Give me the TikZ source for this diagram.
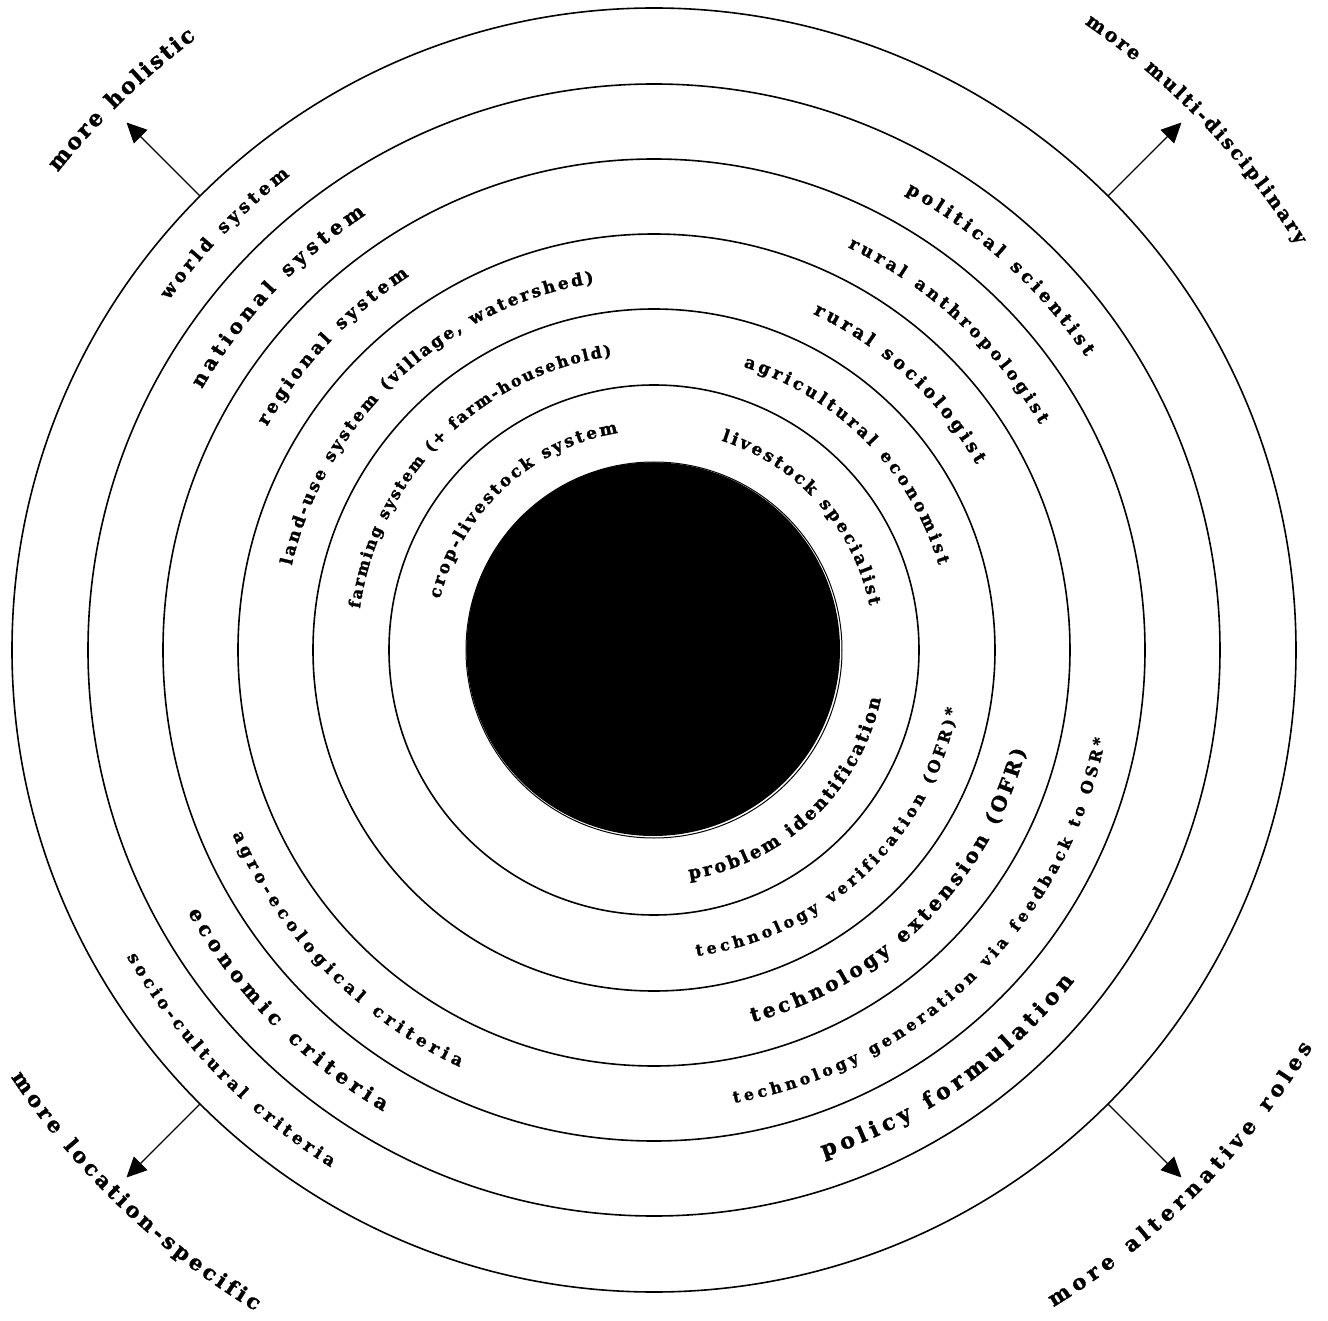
\documentclass[tikz,border=0pt]{standalone}
\usepackage{fontspec}
\setmainfont{DejaVu Serif}[BoldFeatures={FakeBold=1.5}]
\usepackage{tikz}
\usetikzlibrary{arrows.meta,decorations.text}
\newcommand{\ringlabel}[5]{%
  \path[decorate,decoration={text along path,text align=fit to path,
    text={|\fontsize{#4}{#4}\selectfont\bfseries|#5}}]
    (#2:#1) arc[start angle=#2,end angle=#3,radius=#1];}

\begin{document}
\begin{tikzpicture}[
  ring/.style={draw,line width=1.6pt},
  arrow/.style={-{Triangle[length=20pt,width=19pt]},line width=1.4pt}
]
\useasboundingbox (-654pt,-670pt) rectangle (674pt,650pt);
\coordinate (centre) at (0,0);
\foreach \r in {642pt,566pt,491pt,416pt,341pt,265pt}
  \draw[ring] (centre) circle[radius=\r];
\fill (-0.8pt,0.8pt) circle[radius=186.8pt];
\draw[line width=1pt] (centre) circle[radius=188pt];
\foreach \a/\dir in {135/holistic,45/multi,225/location,315/roles}{
  \coordinate (\dir-base) at (\a:642pt);
  \coordinate (\dir-tip) at (\a:746pt);
  \draw[arrow] (\dir-base) -- (\dir-tip);
}
\ringlabel{598pt}{144.2}{127.5}{18pt}{world system}
\ringlabel{522pt}{150}{123.5}{20pt}{national system}
\ringlabel{447pt}{150}{123.2}{18pt}{regional system}
\ringlabel{372pt}{166.9}{99.3}{17pt}{land-use system (village, watershed)}
\ringlabel{297pt}{172}{98.2}{16pt}{farming system (+ farm-household)}
\ringlabel{220pt}{166.6}{99.4}{17pt}{crop-livestock system}
\ringlabel{522pt}{61.2}{34.2}{18pt}{political scientist}
\ringlabel{447pt}{64.3}{30.3}{17pt}{rural anthropologist}
\ringlabel{372pt}{64.7}{29.9}{18pt}{rural sociologist}
\ringlabel{297pt}{72.5}{16.6}{17pt}{agricultural economist}
\ringlabel{220pt}{72.2}{11.6}{17pt}{livestock specialist}
\ringlabel{232pt}{-81.2}{-12.1}{18pt}{problem identification}
\ringlabel{309pt}{-82.1}{-11}{16pt}{technology verification (OFR)*}
\ringlabel{385pt}{-75.2}{-15.1}{20pt}{technology extension (OFR)}
\ringlabel{460pt}{-80}{-11.2}{16pt}{technology generation via feedback to OSR*}
\ringlabel{535pt}{-71.5}{-38.2}{22pt}{policy formulation}
\ringlabel{460pt}{203.6}{245}{17pt}{agro-ecological criteria}
\ringlabel{535pt}{209.4}{239.6}{20pt}{economic criteria}
\ringlabel{610pt}{210.2}{238}{17pt}{socio-cultural criteria}
\ringlabel{764pt}{141.3}{126.8}{22pt}{more holistic}
\ringlabel{760pt}{55.5}{32.2}{19pt}{more multi-disciplinary}
\ringlabel{772pt}{213.6}{238.9}{21pt}{more location-specific}
\ringlabel{769pt}{-58.7}{-31.1}{21pt}{more alternative roles}
\end{tikzpicture}
\end{document}
